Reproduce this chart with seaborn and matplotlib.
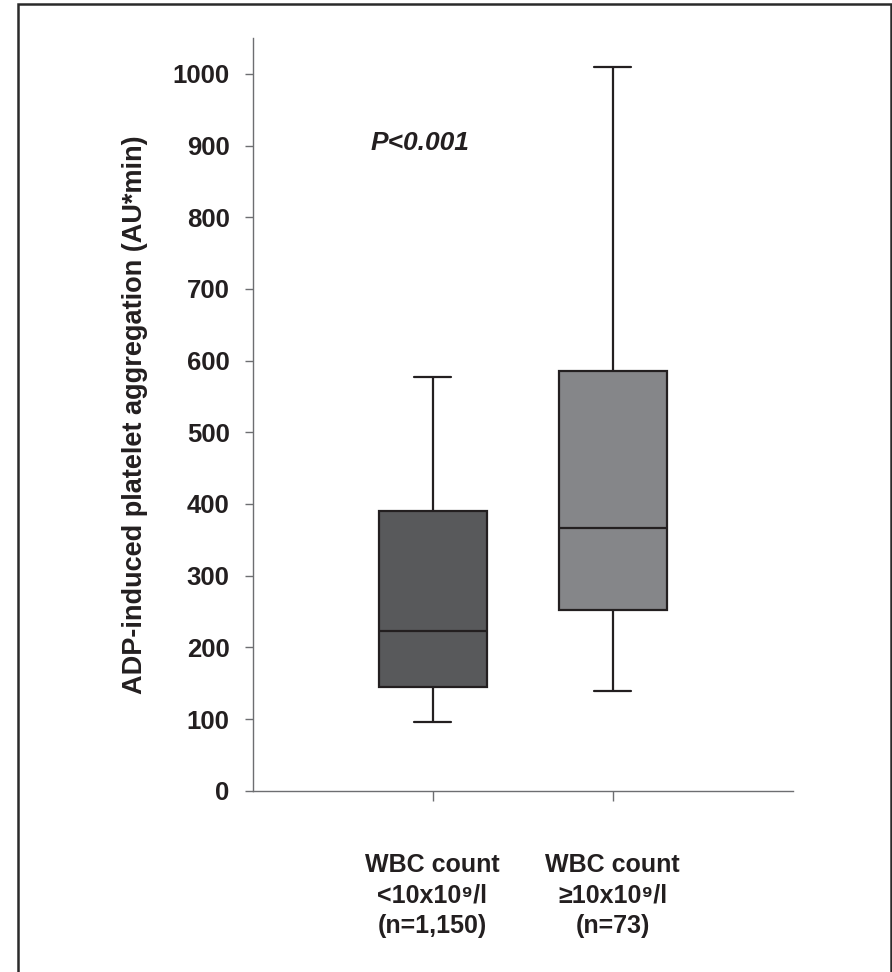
import numpy as np
import pandas as pd
import matplotlib
matplotlib.use("Agg")
import matplotlib.pyplot as plt
from matplotlib.patches import Rectangle
import seaborn as sns

# Group labels (x axis)
groups = ["WBC count\n<10x10⁹/l\n(n=1,150)", "WBC count\n≥10x10⁹/l\n(n=73)"]

# Five-number summaries of ADP-induced aggregation (AU*min) per group
whisker_low = [96, 139]
q1 = [145, 252]
median = [223, 367]
q3 = [390, 586]
whisker_high = [577, 1010]

box_colors = ["#58595b", "#858689"]
y_ticks = list(range(0, 1001, 100))
p_text = "P<0.001"
y_label = "ADP-induced platelet aggregation (AU*min)"

# Long-form table: each group's summary values; with whis=inf the box
# spans the quartiles and the whiskers reach the extremes.
rows = []
for g, lo, a, m, b, hi in zip(groups, whisker_low, q1, median, q3, whisker_high):
    for v in (lo, a, m, b, hi):
        rows.append({"group": g, "value": v})
df = pd.DataFrame(rows)

sns.set_theme(style="ticks")
plt.rcParams["font.family"] = ["Liberation Sans", "DejaVu Sans"]
plt.rcParams["font.weight"] = "bold"
text_color = "#231f20"
spine_color = "#6d6e71"

fig = plt.figure(figsize=(8.92, 9.72), dpi=100)
ax = fig.add_axes([252.5 / 892, 1 - 790.7 / 972, 540 / 892, (790.7 - 38) / 972])

sns.boxplot(
    data=df, x="group", y="value", hue="group", order=groups, hue_order=groups,
    palette=box_colors, legend=False, whis=np.inf, width=0.6,
    linecolor=text_color, linewidth=1.6, capwidths=0.21,
    saturation=1, ax=ax,
)

ax.set_xlim(-1, 2)
ax.set_ylim(0, 1050)
ax.set_yticks(y_ticks)
ax.set_yticklabels([str(t) for t in y_ticks])
ax.set_xlabel("")
ax.set_ylabel(y_label, fontsize=19.5, fontweight="bold", color=text_color)
ax.yaxis.set_label_coords(-0.194, 0.5)

for s in ("top", "right"):
    ax.spines[s].set_visible(False)
for s in ("left", "bottom"):
    ax.spines[s].set_color(spine_color)
    ax.spines[s].set_linewidth(1.0)

ax.tick_params(axis="y", direction="out", length=5.5, width=1, color=spine_color,
               pad=11, labelsize=18.5, labelcolor=text_color)
ax.tick_params(axis="x", direction="out", length=7, width=1, color=spine_color,
               pad=37.5, labelsize=18, labelcolor=text_color)
for lab in ax.get_xticklabels():
    lab.set_fontweight("bold")
    lab.set_linespacing(1.35)
for lab in ax.get_yticklabels():
    lab.set_fontweight("bold")

ax.text(-0.07, 904, p_text, ha="center", va="center", fontsize=19,
        fontweight="bold", fontstyle="italic", color=text_color)

# Outer frame around the figure
fig.add_artist(Rectangle((17.8 / 892, -0.05), (890.5 - 17.8) / 892, 1.05 - 4.5 / 972,
                         transform=fig.transFigure, fill=False,
                         edgecolor="#2a2a2a", linewidth=1.8))

fig.savefig("out.png", dpi=100, facecolor="white")
